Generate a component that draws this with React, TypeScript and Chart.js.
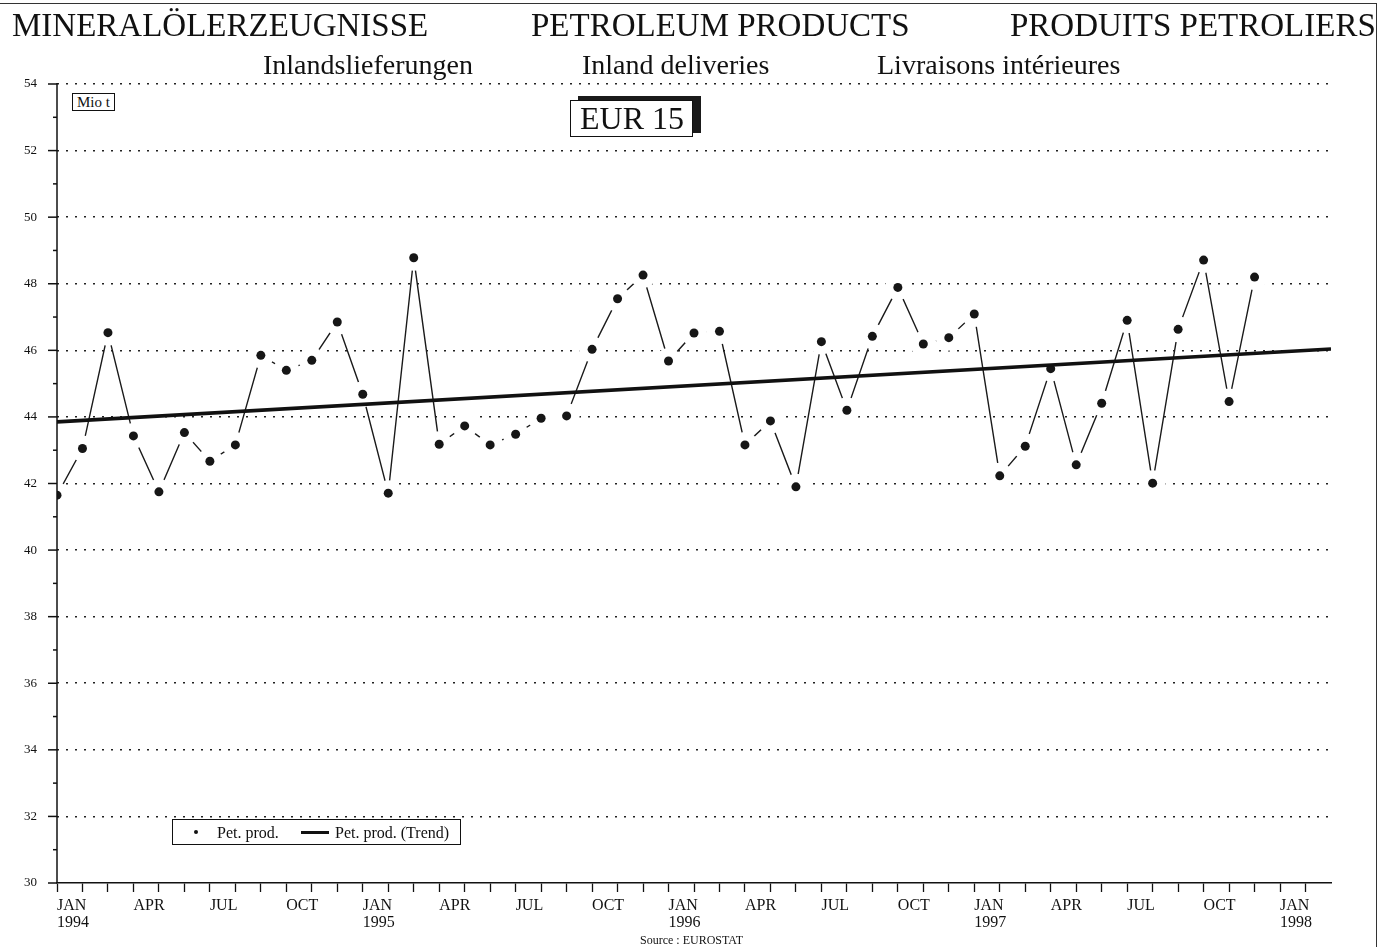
import React, { useEffect, useRef } from "react";
import { Chart, registerables } from "chart.js";

Chart.register(...registerables);

// ---- Data ----
const monthNames = ["JAN", "FEB", "MAR", "APR", "MAY", "JUN", "JUL", "AUG", "SEP", "OCT", "NOV", "DEC"];
const labelMonths = ["JAN", "APR", "JUL", "OCT"];
const startYear = 1994;
const petProd = [
  41.65, 43.05, 46.53, 43.43, 41.75, 43.53, 42.67, 43.16, 45.85, 45.4, 45.7, 46.85,
  44.68, 41.71, 48.78, 43.18, 43.73, 43.16, 43.48, 43.96, 44.03, 46.03, 47.55, 48.26,
  45.68, 46.52, 46.57, 43.16, 43.88, 41.9, 46.26, 44.2, 46.42, 47.89, 46.19, 46.38,
  47.09, 42.23, 43.12, 45.45, 42.56, 44.41, 46.9, 42.01, 46.63, 48.71, 44.46, 48.2,
];
const trendMonthIdx = [0, 50];
const trendValues = [43.85, 46.04];
const yMin = 30;
const yMax = 54;
const xMax = 50;

const SERIF = "'Liberation Serif', 'Times New Roman', serif";

const yAxisDecor = {
  id: "yAxisDecor",
  afterDatasetsDraw(chart: any) {
    const { ctx, chartArea, scales } = chart;
    const y = scales.y;
    ctx.save();
    ctx.strokeStyle = "#111";
    ctx.lineWidth = 1.5;
    ctx.beginPath();
    ctx.moveTo(chartArea.left, chartArea.top - 1);
    ctx.lineTo(chartArea.left, chartArea.bottom);
    ctx.stroke();
    for (const t of y.ticks) {
      const py = y.getPixelForValue(t.value);
      const len = t.value % 2 === 0 ? 9 : 4;
      ctx.beginPath();
      ctx.moveTo(chartArea.left - len, py);
      ctx.lineTo(chartArea.left, py);
      ctx.stroke();
    }
    ctx.restore();
  },
};

export default function App() {
  const canvasRef = useRef<HTMLCanvasElement | null>(null);

  useEffect(() => {
    if (!canvasRef.current) return;
    const pts = petProd.map((v, i) => ({ x: i, y: v }));
    const trend = trendMonthIdx.map((x, i) => ({ x, y: trendValues[i] }));
    const chart = new Chart(canvasRef.current, {
      type: "line",
      data: {
        datasets: [
          {
            label: "Pet. prod. (Trend)",
            data: trend,
            borderColor: "#111",
            borderWidth: 3.6,
            pointRadius: 0,
            fill: false,
          },
          {
            label: "Pet. prod.",
            data: pts,
            showLine: false,
            pointRadius: 4.5,
            pointBackgroundColor: "#161616",
            pointBorderWidth: 0,
            borderColor: "#161616",
          },
          {
            label: "Pet. prod. line",
            data: pts,
            borderColor: "#1a1a1a",
            borderWidth: 1.4,
            pointRadius: 13,
            pointBackgroundColor: "#ffffff",
            pointBorderWidth: 0,
            pointBorderColor: "rgba(0,0,0,0)",
            fill: false,
            tension: 0,
          },
        ],
      },
      options: {
        responsive: false,
        animation: false,
        events: [],
        layout: { padding: { top: 84, right: 52, bottom: 6, left: 0 } },
        plugins: {
          legend: { display: false },
          tooltip: { enabled: false },
          title: { display: false },
        },
        scales: {
          x: {
            type: "linear",
            min: 0,
            max: xMax,
            afterFit: (scale: any) => {
              scale.height = 60;
              scale.paddingLeft = 0;
              scale.paddingRight = 0;
            },
            ticks: {
              stepSize: 1,
              autoSkip: false,
              maxRotation: 0,
              minRotation: 0,
              align: "start",
              padding: 5,
              color: "#111",
              font: { family: SERIF, size: 16, lineHeight: 1.06 },
              callback: (value: any) => {
                const v = Number(value);
                const m = monthNames[v % 12];
                if (v > 48 || !labelMonths.includes(m)) return "";
                if (m === "JAN") return [m, String(startYear + Math.floor(v / 12))];
                return m;
              },
            },
            grid: {
              display: true,
              drawOnChartArea: false,
              drawTicks: true,
              tickLength: 9,
              tickWidth: 1.3,
              tickColor: (ctx: any) => (ctx.tick && ctx.tick.value <= 49 ? "#111" : "rgba(0,0,0,0)"),
            },
            border: { display: true, color: "#111", width: 1.5 },
          },
          y: {
            type: "linear",
            min: yMin,
            max: yMax,
            afterFit: (scale: any) => {
              scale.width = 57;
              scale.paddingTop = 0;
              scale.paddingBottom = 0;
            },
            ticks: {
              stepSize: 1,
              autoSkip: false,
              padding: 20,
              color: "#111",
              font: { family: SERIF, size: 13 },
              callback: (value: any) => (Number(value) % 2 === 0 ? String(value) : ""),
            },
            grid: {
              display: true,
              drawTicks: false,
              lineWidth: 1.6,
              color: (ctx: any) =>
                ctx.tick && ctx.tick.value % 2 === 0 && ctx.tick.value > yMin ? "#222" : "rgba(0,0,0,0)",
            },
            border: { display: false, dash: [2, 7] },
          },
        },
      },
      plugins: [yAxisDecor],
    });
    return () => chart.destroy();
  }, []);

  const text = (s: string, left: number, top: number, size: number, extra: any = {}) => (
    <div
      style={{
        position: "absolute",
        left,
        top,
        fontSize: size,
        lineHeight: 1,
        fontFamily: SERIF,
        color: "#111",
        whiteSpace: "nowrap",
        ...extra,
      }}
    >
      {s}
    </div>
  );

  return (
    <div style={{ position: "absolute", left: 0, top: 0, width: 1383, height: 949, background: "#fff", overflow: "hidden" }}>
      <canvas
        ref={canvasRef}
        width={1383}
        height={949}
        style={{ position: "absolute", left: 0, top: 0, width: 1383, height: 949, display: "block" }}
      />
      <div
        style={{
          position: "absolute",
          left: 0,
          top: 3,
          width: 1377,
          height: 944,
          borderTop: "1.5px solid #333",
          borderRight: "1.5px solid #333",
          boxSizing: "border-box",
          pointerEvents: "none",
        }}
      />
      {text("MINERALÖLERZEUGNISSE", 12, 9, 33)}
      {text("PETROLEUM PRODUCTS", 531, 9, 33)}
      {text("PRODUITS PETROLIERS", 1010, 9, 33)}
      {text("Inlandslieferungen", 263, 51, 28)}
      {text("Inland deliveries", 582, 51, 28)}
      {text("Livraisons intérieures", 877, 51, 28)}
      <div
        style={{
          position: "absolute",
          left: 72,
          top: 93,
          height: 16,
          padding: "0 4px",
          border: "1px solid #111",
          fontFamily: SERIF,
          fontSize: 15,
          lineHeight: "16px",
          color: "#111",
          background: "#fff",
          whiteSpace: "nowrap",
        }}
      >
        Mio t
      </div>
      <div
        style={{
          position: "absolute",
          left: 570,
          top: 100,
          width: 123,
          height: 37,
          boxSizing: "border-box",
          border: "1.5px solid #111",
          background: "#fff",
          boxShadow: "8px -4px 0 0 #1a1a1a",
          fontFamily: SERIF,
          fontSize: 32,
          lineHeight: "34px",
          paddingLeft: 9,
          color: "#111",
          whiteSpace: "nowrap",
        }}
      >
        EUR 15
      </div>
      <div
        style={{
          position: "absolute",
          left: 172,
          top: 819,
          width: 289,
          height: 26,
          boxSizing: "border-box",
          border: "1.2px solid #111",
          background: "#fff",
        }}
      >
        <div style={{ position: "absolute", left: 21, top: 10, width: 4, height: 4, borderRadius: 2, background: "#111" }} />
        {text("Pet. prod.", 44, 5, 16)}
        <div style={{ position: "absolute", left: 128, top: 10.5, width: 28, height: 3, background: "#111" }} />
        {text("Pet. prod. (Trend)", 162, 5, 16)}
      </div>
      {text("Source : EUROSTAT", 640, 934, 12)}
    </div>
  );
}
